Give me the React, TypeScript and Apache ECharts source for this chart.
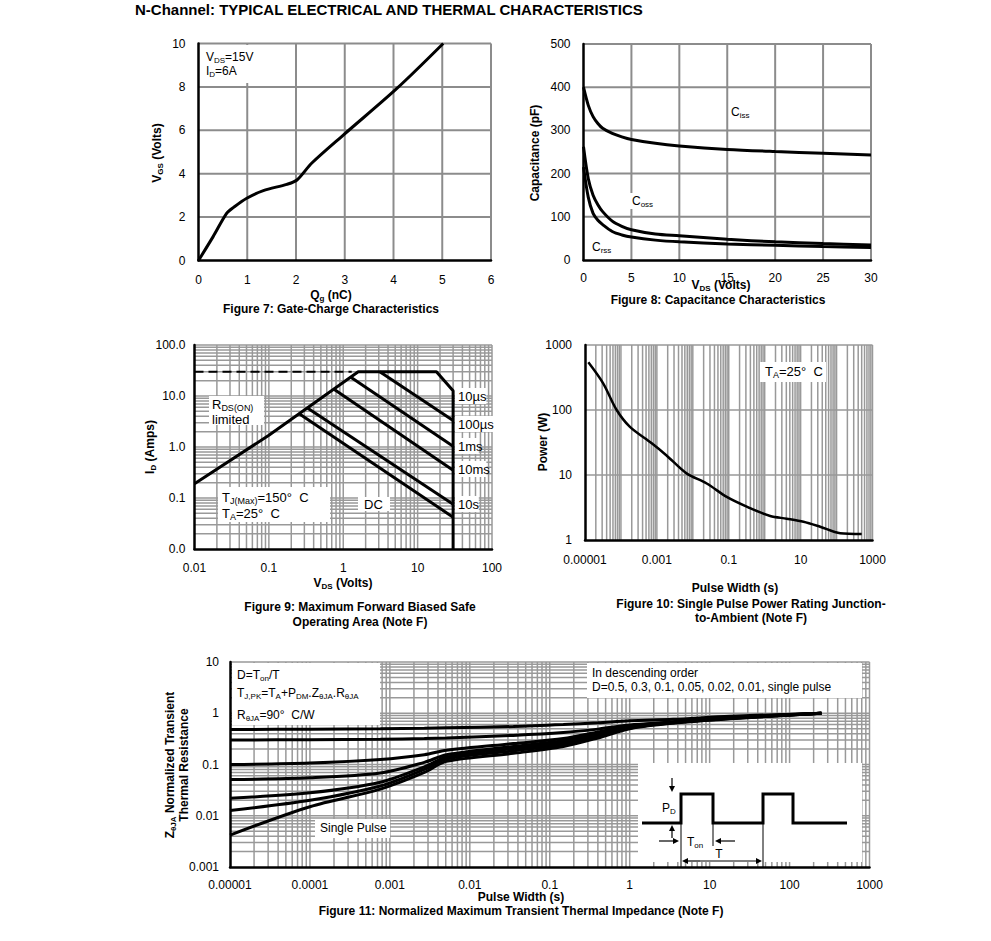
import React, { useEffect, useRef } from 'react';
import * as echarts from 'echarts';

const FONT = '"Liberation Sans", Arial, Helvetica, sans-serif';

// ---------- Figure 7: gate charge ----------
const gateChargeQg = [0, 0.3, 0.58, 0.72, 0.99, 1.33, 1.81, 2.02, 2.32, 2.97, 4.07, 5.02];
const gateChargeVgs = [0, 1.1, 2.18, 2.45, 2.87, 3.22, 3.51, 3.71, 4.48, 5.78, 7.93, 10.0];

// ---------- Figure 8: capacitance ----------
const capVds = [0, 0.5, 1, 1.5, 2, 3, 4, 5, 7.5, 10, 15, 20, 25, 30];
const cissPF = [400, 358, 332, 316, 305, 293, 285, 279, 270, 264, 256, 251, 247, 243];
const cossPF = [262, 188, 150, 128, 112, 90, 78, 70, 60, 56, 48, 42, 38, 35];
const crssPF = [215, 145, 108, 92, 82, 66, 58, 53, 46, 42, 37, 34, 31, 29];

// ---------- Figure 9: SOA ----------
const soaEnvelopeV = [0.01, 0.1, 1.59, 17.9, 30, 30];
const soaEnvelopeA = [0.19, 1.7, 30, 30, 12.7, 0.01];
const soaDashedV = [0.01, 1.3];
const soaDashedA = [30, 30];
const soa100usV = [3.1, 30];
const soa100usA = [30, 3.3];
const soa1msV = [1.25, 30];
const soa1msA = [23.5, 1.04];
const soa10msV = [0.75, 30];
const soa10msA = [13.5, 0.35];
const soa10sV = [0.33, 30];
const soa10sA = [5.8, 0.075];
const soaDcV = [0.25, 30];
const soaDcA = [4.6, 0.042];

// ---------- Figure 10: single pulse power ----------
const pulseWidthS = [1.24e-5, 3.2e-5, 7.6e-5, 1.78e-4, 7.2e-4, 1.86e-3, 6.7e-3, 0.0244, 0.088, 0.316, 1.42, 4.1, 12, 35, 126, 500];
const pulsePowerW = [541, 257, 100, 55, 30.7, 20, 10.6, 7.4, 4.6, 3.26, 2.34, 2.13, 1.91, 1.6, 1.27, 1.24];

// ---------- Figure 11: transient thermal impedance ----------
const zthTime = [1e-5, 1e-4, 7.6e-4, 2.7e-3, 5.1e-3, 0.035, 0.148, 0.4, 1, 3.5, 18, 250];
const zthD05 = [0.48, 0.49, 0.5, 0.51, 0.52, 0.55, 0.6, 0.65, 0.71, 0.76, 0.87, 1.0];
const zthD03 = [0.3, 0.305, 0.31, 0.32, 0.33, 0.37, 0.42, 0.49, 0.59, 0.67, 0.83, 1.0];
const zthD01 = [0.1, 0.107, 0.125, 0.155, 0.19, 0.256, 0.32, 0.43, 0.56, 0.68, 0.82, 1.0];
const zthD005 = [0.051, 0.055, 0.068, 0.11, 0.155, 0.225, 0.29, 0.4, 0.54, 0.67, 0.81, 1.0];
const zthD002 = [0.022, 0.028, 0.045, 0.09, 0.14, 0.205, 0.265, 0.37, 0.52, 0.66, 0.8, 1.0];
const zthD001 = [0.0126, 0.02, 0.038, 0.08, 0.128, 0.185, 0.245, 0.35, 0.51, 0.65, 0.79, 1.0];
const zthSingle = [0.0042, 0.015, 0.033, 0.07, 0.115, 0.165, 0.225, 0.33, 0.5, 0.64, 0.78, 1.0];

const zip = (xs: number[], ys: number[]) => xs.map((x, i) => [x, ys[i]]);

function decadeLabel(v: number): string {
  const e = Math.round(Math.log10(v));
  return e < 0 ? '0.' + '0'.repeat(-e - 1) + '1' : '1' + '0'.repeat(e);
}

function logLines(minExp: number, maxExp: number, minor = true): number[] {
  const out: number[] = [];
  for (let e = minExp; e < maxExp; e++) {
    for (let m = 1; m <= (minor ? 9 : 1); m++) {
      if (e === minExp && m === 1) continue;
      out.push(parseFloat((m * Math.pow(10, e)).toPrecision(6)));
    }
  }
  out.push(Math.pow(10, maxExp));
  return out;
}
function linLines(step: number, max: number): number[] {
  const out: number[] = [];
  for (let v = step; v <= max + 1e-9; v += step) out.push(v);
  return out;
}

const GRIDS = [
  { left: 198.5, top: 43.5, width: 292.5, height: 217 },
  { left: 583.5, top: 44, width: 287.5, height: 216 },
  { left: 194.5, top: 345, width: 297.5, height: 204 },
  { left: 585, top: 345, width: 287.5, height: 195 },
  { left: 230, top: 662, width: 639.5, height: 205 },
];

const labelBase = { color: '#000', fontFamily: FONT, fontSize: 12 };
const axisLine = { show: true, lineStyle: { color: '#000', width: 2.5 } };

function mkAxis(gi: number, extra: any, margin: number) {
  const { axisLabel, ...rest } = extra;
  return {
    gridIndex: gi,
    axisLine,
    axisTick: { show: false },
    splitLine: { show: false },
    z: 7,
    ...rest,
    axisLabel: { ...labelBase, margin, showMinLabel: true, showMaxLabel: true, interval: 0, ...(axisLabel || {}) },
  };
}

function curve(gi: number, xs: number[], ys: number[], extra: any = {}) {
  return {
    type: 'line', xAxisIndex: gi, yAxisIndex: gi, data: zip(xs, ys), symbol: 'none',
    smooth: 0.3, silent: true, z: 6,
    lineStyle: { color: '#000', width: 3 }, ...extra,
  };
}

// grid lines: one two-point line series per grid line, placed by the axes' own scales
function gridSeries(gi: number, xr: number[], yr: number[], xVals: number[], yVals: number[], color: string, width: number) {
  const segs = [
    ...xVals.map((v) => [[v, yr[0]], [v, yr[1]]]),
    ...yVals.map((v) => [[xr[0], v], [xr[1], v]]),
  ];
  return segs.map((d) => ({
    type: 'line', xAxisIndex: gi, yAxisIndex: gi, data: d, symbol: 'none', silent: true, z: 1, clip: false,
    lineStyle: { color, width, type: 'solid' }, emphasis: { disabled: true },
  }));
}

function rich(size: number, bold: boolean) {
  const w = bold ? 'bold' : 'normal';
  const ss = Math.round(size * 0.68);
  return {
    n: { fontSize: size, fontWeight: w, fontFamily: FONT, fill: '#000', lineHeight: size + 3 },
    s: { fontSize: ss, fontWeight: w, fontFamily: FONT, fill: '#000', lineHeight: ss, verticalAlign: 'bottom' },
  };
}

function label(x: number, y: number, text: string, o: { size?: number; bold?: boolean; align?: string; rotate?: boolean } = {}) {
  const size = o.size ?? 12;
  const t = text.indexOf('{') >= 0 ? text : `{n|${text}}`;
  return {
    type: 'text', x, y, z: 11, rotation: o.rotate ? Math.PI / 2 : 0, silent: true,
    style: {
      text: t, rich: rich(size, !!o.bold), align: o.align ?? 'left', verticalAlign: 'middle',
      fontFamily: FONT, fontSize: size, fill: '#000',
    },
  };
}

function box(x1: number, y1: number, x2: number, y2: number) {
  return { type: 'rect', z: 10, silent: true, shape: { x: x1, y: y1, width: x2 - x1, height: y2 - y1 }, style: { fill: '#fff' } };
}

function seg(x1: number, y1: number, x2: number, y2: number, w = 1) {
  return { type: 'line', z: 11, silent: true, shape: { x1, y1, x2, y2 }, style: { stroke: '#000', lineWidth: w } };
}

function arrow(x1: number, y1: number, x2: number, y2: number) {
  const dx = x2 - x1, dy = y2 - y1, L = Math.hypot(dx, dy);
  const ux = dx / L, uy = dy / L, nx = -uy, ny = ux;
  const hl = 6, hw = 3;
  return [
    seg(x1, y1, x2 - ux * 4, y2 - uy * 4, 1.2),
    {
      type: 'polygon', z: 11, silent: true,
      shape: { points: [[x2, y2], [x2 - ux * hl + nx * hw, y2 - uy * hl + ny * hw], [x2 - ux * hl - nx * hw, y2 - uy * hl - ny * hw]] },
      style: { fill: '#000' },
    },
  ];
}

function buildOption() {
  const gridColorLin = '#8c8c8c';
  const gridColorLog = '#999999';

  const xAxis = [
    mkAxis(0, { type: 'value', min: 0, max: 6, interval: 1 }, 13),
    mkAxis(1, { type: 'value', min: 0, max: 30, interval: 5 }, 12),
    mkAxis(2, { type: 'log', logBase: 10, min: 0.01, max: 100, axisLabel: { formatter: (v: number) => decadeLabel(v) } }, 13),
    mkAxis(3, {
      type: 'log', logBase: 10, min: 1e-5, max: 1000,
      axisLabel: { formatter: (v: number) => (Math.round(Math.log10(v)) % 2 === 0 ? '' : decadeLabel(v)) },
    }, 14),
    mkAxis(4, { type: 'log', logBase: 10, min: 1e-5, max: 1000, axisLabel: { formatter: (v: number) => decadeLabel(v) } }, 12),
  ];
  const yAxis = [
    mkAxis(0, { type: 'value', min: 0, max: 10, interval: 2 }, 13),
    mkAxis(1, { type: 'value', min: 0, max: 500, interval: 100 }, 13),
    mkAxis(2, { type: 'log', logBase: 10, min: 0.01, max: 100, axisLabel: { formatter: (v: number) => v.toFixed(1) } }, 9),
    mkAxis(3, { type: 'log', logBase: 10, min: 1, max: 1000, axisLabel: { formatter: (v: number) => decadeLabel(v) } }, 13),
    mkAxis(4, { type: 'log', logBase: 10, min: 0.001, max: 10, axisLabel: { formatter: (v: number) => decadeLabel(v) } }, 11),
  ];

  const series: any[] = [
    ...gridSeries(0, [0, 6], [0, 10], linLines(1, 6), linLines(2, 10), gridColorLin, 2),
    ...gridSeries(1, [0, 30], [0, 500], linLines(5, 30), linLines(100, 500), gridColorLin, 2),
    ...gridSeries(2, [0.01, 100], [0.01, 100], logLines(-2, 2), logLines(-2, 2), gridColorLog, 1.5),
    ...gridSeries(3, [1e-5, 1000], [1, 1000], logLines(-5, 3), logLines(0, 3, false), gridColorLog, 1.5),
    ...gridSeries(4, [1e-5, 1000], [0.001, 10], logLines(-5, 3), logLines(-3, 1), gridColorLog, 1.5),

    curve(0, gateChargeQg, gateChargeVgs),
    curve(1, capVds, cissPF),
    curve(1, capVds, cossPF),
    curve(1, capVds, crssPF),

    curve(2, soaEnvelopeV, soaEnvelopeA, { smooth: false }),
    curve(2, soaDashedV, soaDashedA, { smooth: false, lineStyle: { color: '#000', width: 2, type: [9, 5] } }),
    curve(2, soa100usV, soa100usA, { smooth: false }),
    curve(2, soa1msV, soa1msA, { smooth: false }),
    curve(2, soa10msV, soa10msA, { smooth: false }),
    curve(2, soa10sV, soa10sA, { smooth: false }),
    curve(2, soaDcV, soaDcA, { smooth: false }),

    curve(3, pulseWidthS, pulsePowerW, { lineStyle: { color: '#000', width: 2.5 } }),

    curve(4, zthTime, zthD05),
    curve(4, zthTime, zthD03),
    curve(4, zthTime, zthD01),
    curve(4, zthTime, zthD005),
    curve(4, zthTime, zthD002),
    curve(4, zthTime, zthD001),
    curve(4, zthTime, zthSingle),
  ];

  const g: any[] = [];
  // title
  g.push(label(135, 9, 'N-Channel: TYPICAL ELECTRICAL AND THERMAL CHARACTERISTICS', { size: 15, bold: true }));

  // Figure 7
  g.push(box(200, 45, 255, 83));
  g.push(label(206, 57, '{n|V}{s|DS}{n|=15V}'));
  g.push(label(206, 71, '{n|I}{s|D}{n|=6A}'));
  g.push(label(157, 153, '{n|V}{s|GS}{n| (Volts)}', { bold: true, align: 'center', rotate: true }));
  g.push(label(331, 295, '{n|Q}{s|g}{n| (nC)}', { bold: true, align: 'center' }));
  g.push(label(331, 309, 'Figure 7: Gate-Charge Characteristics', { bold: true, align: 'center' }));

  // Figure 8
  g.push(label(731, 112, '{n|C}{s|iss}'));
  g.push(box(629, 193, 658, 209));
  g.push(label(632, 201, '{n|C}{s|oss}'));
  g.push(box(589, 239, 614, 255));
  g.push(label(592, 247, '{n|C}{s|rss}'));
  g.push(label(535, 153, 'Capacitance (pF)', { bold: true, align: 'center', rotate: true }));
  g.push(label(721, 285, '{n|V}{s|DS}{n| (Volts)}', { bold: true, align: 'center' }));
  g.push(label(718, 300, 'Figure 8: Capacitance Characteristics', { bold: true, align: 'center' }));

  // Figure 9
  g.push(box(209, 396, 264, 425));
  g.push(label(212, 404, '{n|R}{s|DS(ON)}', { size: 13 }));
  g.push(label(212, 419, 'limited', { size: 13 }));
  g.push(box(218, 487, 330, 522));
  g.push(label(222, 497, '{n|T}{s|J(Max)}{n|=150°  C}', { size: 13 }));
  g.push(label(222, 513, '{n|T}{s|A}{n|=25°  C}', { size: 13 }));
  g.push(box(358, 497, 390, 511));
  g.push(label(364, 504, 'DC', { size: 13 }));
  const soaLabels: Array<[string, number]> = [['10µs', 396], ['100µs', 424], ['1ms', 446], ['10ms', 469], ['10s', 504]];
  soaLabels.forEach(([t, y]) => {
    g.push(box(455, y - 8, 456 + t.length * 7.6, y + 8));
    g.push(label(458, y, t, { size: 13 }));
  });
  g.push(label(150, 447, '{n|I}{s|D}{n| (Amps)}', { bold: true, align: 'center', rotate: true }));
  g.push(label(343, 583, '{n|V}{s|DS}{n| (Volts)}', { bold: true, align: 'center' }));
  g.push(label(360, 607, 'Figure 9: Maximum Forward Biased Safe', { bold: true, align: 'center' }));
  g.push(label(360, 622, 'Operating Area (Note F)', { bold: true, align: 'center' }));

  // Figure 10
  g.push(box(760, 362, 826, 382));
  g.push(label(765, 371, '{n|T}{s|A}{n|=25°  C}', { size: 13 }));
  g.push(label(543, 442, 'Power (W)', { bold: true, align: 'center', rotate: true }));
  g.push(label(735, 588, 'Pulse Width (s)', { bold: true, align: 'center' }));
  g.push(label(751, 604, 'Figure 10: Single Pulse Power Rating Junction-', { bold: true, align: 'center' }));
  g.push(label(751, 618, 'to-Ambient (Note F)', { bold: true, align: 'center' }));

  // Figure 11
  g.push(box(232, 663, 380, 725));
  g.push(label(237, 675, '{n|D=T}{s|on}{n|/T}'));
  g.push(label(237, 693, '{n|T}{s|J,PK}{n|=T}{s|A}{n|+P}{s|DM}{n|.Z}{s|θJA}{n|.R}{s|θJA}'));
  g.push(label(237, 715, '{n|R}{s|θJA}{n|=90°  C/W}'));
  g.push(box(587, 663, 862, 698));
  g.push(label(592, 673, 'In descending order'));
  g.push(label(592, 687, 'D=0.5, 0.3, 0.1, 0.05, 0.02, 0.01, single pulse'));
  g.push(box(315, 819, 390, 838));
  g.push(label(320, 828, 'Single Pulse'));
  g.push(label(170, 765, '{n|Z}{s|θJA}{n| Normalized Transient}', { bold: true, align: 'center', rotate: true }));
  g.push(label(184, 765, 'Thermal Resistance', { bold: true, align: 'center', rotate: true }));
  g.push(label(521, 897, 'Pulse Width (s)', { bold: true, align: 'center' }));
  g.push(label(521, 911, 'Figure 11: Normalized Maximum Transient Thermal Impedance (Note F)', { bold: true, align: 'center' }));

  // inset pulse diagram
  g.push(box(638, 763, 862, 862));
  g.push({
    type: 'polyline', z: 11, silent: true,
    shape: { points: [[642, 823], [681, 823], [681, 794], [713, 794], [713, 823], [763, 823], [763, 794], [793, 794], [793, 823], [847, 823]] },
    style: { stroke: '#000', lineWidth: 3, fill: null },
  });
  g.push(seg(681, 823, 681, 868));
  g.push(seg(763, 823, 763, 868));
  g.push(seg(713, 823, 713, 846));
  g.push(...arrow(672, 778, 672, 792));
  g.push(...arrow(672, 838, 672, 825));
  g.push(...arrow(659, 841, 679, 841));
  g.push(...arrow(735, 841, 715, 841));
  g.push(...arrow(700, 861, 682, 861));
  g.push(...arrow(700, 861, 762, 861));
  g.push(label(662, 808, '{n|P}{s|D}'));
  g.push(label(687, 842, '{n|T}{s|on}'));
  g.push(label(719, 854, 'T', { align: 'center' }));

  return {
    animation: false,
    backgroundColor: '#fff',
    textStyle: { fontFamily: FONT },
    grid: GRIDS.map((gr) => ({ ...gr, containLabel: false })),
    xAxis,
    yAxis,
    series,
    graphic: { elements: g },
  };
}

export default function App() {
  const ref = useRef<HTMLDivElement>(null);
  useEffect(() => {
    if (!ref.current) return;
    const chart = echarts.init(ref.current, undefined, { renderer: 'svg' });
    chart.setOption(buildOption() as any);
    return () => chart.dispose();
  }, []);
  return <div ref={ref} style={{ position: 'absolute', left: 0, top: 0, width: 991, height: 941, background: '#fff' }} />;
}
